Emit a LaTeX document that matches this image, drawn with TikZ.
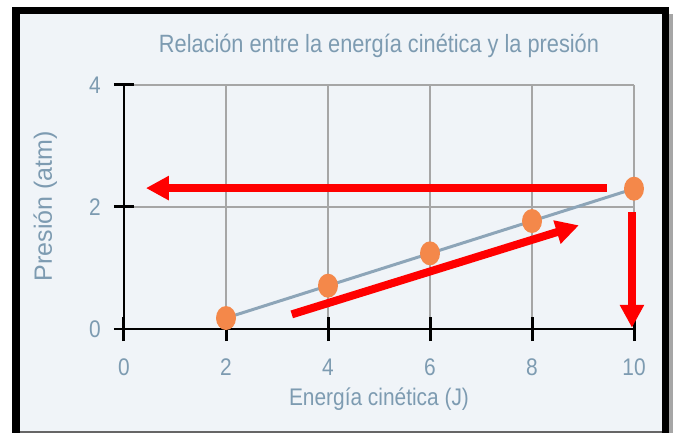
\documentclass[tikz,border=0pt]{standalone}
\usepackage{fontspec}
\setmainfont{Liberation Sans}
\newfontfamily\narrowfont{Liberation Sans}[FakeStretch=0.87]
\usepackage{tikz}
\usetikzlibrary{arrows.meta,shapes.geometric}
\definecolor{panel}{RGB}{240,244,248}
\definecolor{labelblue}{RGB}{125,155,177}
\definecolor{fitblue}{RGB}{141,165,184}
\definecolor{dotorange}{RGB}{244,136,74}
\definecolor{gridgray}{RGB}{166,166,166}

\begin{document}
\begin{tikzpicture}[
    x=51pt,y=61pt,
    gridline/.style={gridgray,line width=1.2pt},
    axis/.style={black,line width=2.5pt},
    tick/.style={black,line width=3pt},
    ticklabel/.style={labelblue,inner sep=0pt,
        font={\narrowfont\fontsize{24}{28}\selectfont}},
    title/.style={labelblue,inner sep=0pt,anchor=base,
        font={\narrowfont\fontsize{25}{30}\selectfont}},
    dot/.style={ellipse,fill=dotorange,minimum width=20pt,
        minimum height=24pt,inner sep=0pt},
    fitline/.style={fitblue,line width=3pt},
    pointer/.style={red,line width=8pt,
        -{Triangle[length=23pt,width=23pt]}},
    ]
    % Frame, in pixels of the page
    \begin{scope}[x=1pt,y=-1pt,shift={(-124pt,329pt)}]
        \useasboundingbox (0,0) rectangle (678,433);
        \fill[panel] (16,10) rectangle (666,433);
        \fill[black!35] (669,14) rectangle (673,433);
        \draw[black!60,line width=2pt] (20,432) -- (666,432);
        \draw[line width=7.5pt] (16,433) -- (16,10.5) -- (665.5,10.5)
            -- (665.5,433);
    \end{scope}

    % Grid
    \foreach \x in {2,4,...,10}
        \draw[gridline] (\x,0) -- (\x,4);
    \foreach \y in {2,4}
        \draw[gridline] (0,\y) -- (10,\y);

    % Axes and ticks
    \draw[axis] (0,0) -- (0,4);
    \draw[axis] (-0.2,0) -- (10,0);
    \foreach \x in {0,2,...,10}
        \draw[tick] (\x,-0.2) -- (\x,0.2);
    \foreach \y in {2,4}
        \draw[tick] (-0.2,\y) -- (0.2,\y);

    % Tick labels
    \foreach \x in {0,2,...,10}
        \node[ticklabel] (xl\x) at (\x,-0.63) {\x};
    \foreach \y in {0,2,4}
        \node[ticklabel,anchor=east] (yl\y) at (-0.45,\y) {\y};

    % Titles
    \node[title] (charttitle) at (5,4.525)
        {Relación entre la energía cinética y la presión};
    \node[title,font={\narrowfont\fontsize{24}{28}\selectfont}]
        (xtitle) at (5,-1.246) {Energía cinética (J)};
    \node[title,rotate=90,font={\fontsize{25}{30}\selectfont}]
        (ytitle) at (-1.412,2.016) {Presión (atm)};

    % Data
    \foreach \x/\y in {2/0.18,4/0.71,6/1.24,8/1.77,10/2.30}
        \coordinate (e\x) at (\x,\y);
    \draw[fitline] (e2) -- (e10);
    \foreach \x in {2,4,...,10}
        \node[dot] (dot\x) at (e\x) {};

    % Red pointers
    \coordinate (hTail) at (9.47,2.31);
    \coordinate (hTip) at (0.43,2.31);
    \coordinate (dTail) at (3.29,0.24);
    \coordinate (dTip) at (8.92,1.70);
    \coordinate (vTail) at (9.96,1.92);
    \coordinate (vTip) at (9.96,0.02);
    \draw[pointer] (hTail) -- (hTip);
    \draw[pointer] (dTail) -- (dTip);
    \draw[pointer] (vTail) -- (vTip);
\end{tikzpicture}
\end{document}
